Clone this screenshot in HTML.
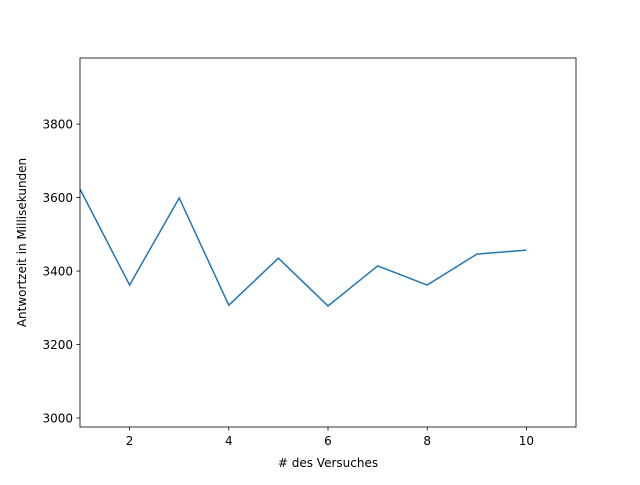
<!DOCTYPE html>
<html><head><meta charset="utf-8"><style>
body{margin:0;background:#fff;}
svg text{font-family:"DejaVu Sans","Liberation Sans",sans-serif;font-size:12px;fill:#000;}
</style></head><body>
<svg id="chart" width="640" height="480" xmlns="http://www.w3.org/2000/svg">
<rect width="640" height="480" fill="#fff"/>
<g id="ticks"></g>
<path id="line" fill="none" stroke="#1f77b4" stroke-width="1.5"/>
<rect x="80" y="58" width="496" height="369" fill="none" stroke="#000" stroke-width="0.8"/>
<text x="328" y="467" text-anchor="middle"># des Versuches</text>
<text transform="translate(26,242.5) rotate(-90)" text-anchor="middle">Antwortzeit in Millisekunden</text>
</svg>
<script>
const trials=[1,2,3,4,5,6,7,8,9,10];
const times=[3623,3362,3599,3307,3435,3305,3414,3362,3446,3457];
const xTicks=[2,4,6,8,10];
const yTicks=[3000,3200,3400,3600,3800];
const X0=80,X1=576,Y0=427,Y1=58,xmin=1,xmax=11,ymin=2975.5,ymax=3980;
const sx=v=>X0+(v-xmin)/(xmax-xmin)*(X1-X0);
const sy=v=>Y0-(v-ymin)/(ymax-ymin)*(Y0-Y1);
const NS="http://www.w3.org/2000/svg";
const g=document.getElementById('ticks');
function mk(t,a){const e=document.createElementNS(NS,t);for(const k in a)e.setAttribute(k,a[k]);g.appendChild(e);return e;}
xTicks.forEach(v=>{
 const l=mk('line',{x1:sx(v),x2:sx(v),y1:Y0,y2:Y0+3.5,stroke:'#000','stroke-width':0.8});
 
 
 const t=mk('text',{x:sx(v),y:Y0+18,'text-anchor':'middle'});t.textContent=v;
 
 
});
yTicks.forEach(v=>{
 const l=mk('line',{x1:X0-3.5,x2:X0,y1:sy(v),y2:sy(v),stroke:'#000','stroke-width':0.8});
 
 
 const t=mk('text',{x:X0-7,y:sy(v)+4.5,'text-anchor':'end'});t.textContent=v;
 
 
});
document.getElementById('line').setAttribute('d',trials.map((v,i)=>(i?'L':'M')+sx(v)+','+sy(times[i])).join(' '));
</script>
</body></html>
